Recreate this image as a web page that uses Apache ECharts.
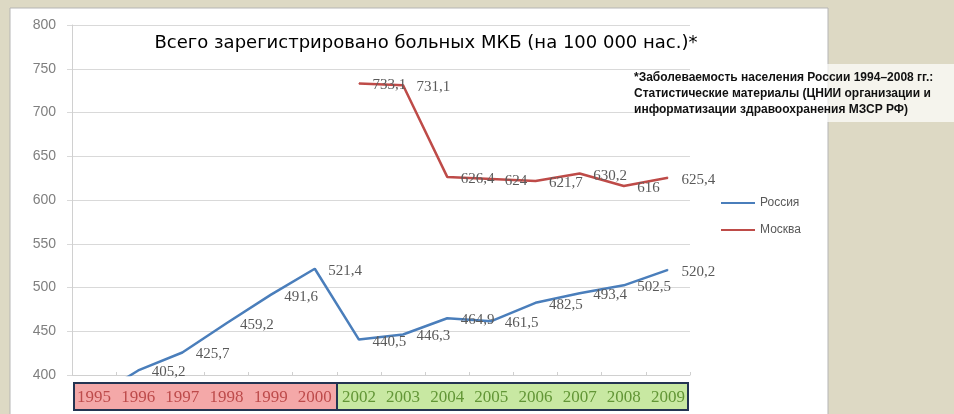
<!DOCTYPE html>
<html>
<head>
<meta charset="utf-8">
<script src="https://cdn.jsdelivr.net/npm/echarts@6/dist/echarts.min.js"></script>
<style>
  html, body { margin: 0; padding: 0; background: #ddd9c4; }
  #main { width: 954px; height: 414px; }
</style>
</head>
<body>
<div id="main"></div>
<script>
// data
var years = ['1995', '1996', '1997', '1998', '1999', '2000', '2002', '2003', '2004', '2005', '2006', '2007', '2008', '2009']
var russia = [374, 405.2, 425.7, 459.2, 491.6, 521.4, 440.5, 446.3, 464.9, 461.5, 482.5, 493.4, 502.5, 520.2]
var moscow = [null, null, null, null, null, null, 733.1, 731.1, 626.4, 624, 621.7, 630.2, 616, 625.4]
var yTicks = [400, 450, 500, 550, 600, 650, 700, 750, 800]

var myChart = echarts.init(document.getElementById('main'))

function fmt(p) {
  if (p.value == null || p.value < yTicks[0]) return ''
  return String(p.value).replace('.', ',')
}

var labelStyle = {
  show: true,
  position: 'right',
  distance: 13,
  offset: [0, 2],
  formatter: fmt,
  color: '#5a5a5a',
  fontSize: 15,
  fontFamily: 'Liberation Serif'
}

var option = {
  backgroundColor: '#ddd9c4',
  title: {
    text: 'Всего зарегистрировано больных МКБ (на 100 000 нас.)*',
    left: 421,
    top: 29,
    textAlign: 'center',
    textStyle: { color: '#000', fontSize: 18, fontWeight: 'normal', fontFamily: 'DejaVu Sans' }
  },
  legend: {
    orient: 'vertical',
    left: 716,
    top: 192,
    itemGap: 15,
    itemWidth: 34,
    itemHeight: 2,
    icon: 'rect',
    textStyle: { color: '#595959', fontSize: 12, fontFamily: 'Liberation Sans' },
    data: [
      { name: 'Россия', itemStyle: { color: '#4a7ebb' } },
      { name: 'Москва', itemStyle: { color: '#be4b48' } }
    ]
  },
  grid: { left: 72, right: 264, top: 25, bottom: 39 },
  xAxis: {
    type: 'category',
    data: years,
    boundaryGap: true,
    axisLine: { lineStyle: { color: '#d0d0d0' } },
    axisTick: { show: true, length: 3, inside: true, lineStyle: { color: '#d0d0d0' } },
    axisLabel: {
      margin: 14,
      interval: 0,
      fontSize: 17,
      fontFamily: 'Liberation Serif',
      color: function (v, i) { return i < 6 ? '#bd4b4b' : '#629636' }
    }
  },
  yAxis: {
    type: 'value',
    min: yTicks[0],
    max: yTicks[yTicks.length - 1],
    interval: 50,
    axisLine: { show: true, lineStyle: { color: '#d0d0d0' } },
    axisTick: { show: true, length: 5, lineStyle: { color: '#d9d9d9' } },
    axisLabel: { color: '#7f7f7f', fontSize: 14, margin: 16, fontFamily: 'Liberation Sans' },
    splitLine: { lineStyle: { color: '#d9d9d9' } }
  },
  graphic: [
    { type: 'rect', z: -10, shape: { x: 10, y: 8, width: 818, height: 420 },
      style: { fill: '#fff', stroke: '#b5b5b5', lineWidth: 1 } },
    { type: 'rect', z: -5, shape: { x: 74, y: 383, width: 263, height: 27 },
      style: { fill: '#f4a8a8', stroke: '#243452', lineWidth: 2 } },
    { type: 'rect', z: -5, shape: { x: 337, y: 383, width: 351, height: 27 },
      style: { fill: '#c8e8a2', stroke: '#243452', lineWidth: 2 } },
    { type: 'rect', z: -4, shape: { x: 628, y: 64, width: 326, height: 58 },
      style: { fill: 'rgba(255,255,255,0.7)' } },
    { type: 'text', z: 10, left: 634, top: 70,
      style: {
        text: '*Заболеваемость населения России 1994–2008 гг.:\nСтатистические материалы (ЦНИИ организации и\nинформатизации здравоохранения МЗСР РФ)',
        fill: '#111', font: 'bold 12px Liberation Sans', lineHeight: 16
      } }
  ],
  series: [
    {
      name: 'Россия',
      type: 'line',
      data: russia,
      symbol: 'circle',
      symbolSize: 1,
      lineStyle: { color: '#4a7ebb', width: 2.5 },
      itemStyle: { color: '#4a7ebb' },
      label: labelStyle
    },
    {
      name: 'Москва',
      type: 'line',
      data: moscow,
      symbol: 'circle',
      symbolSize: 1,
      lineStyle: { color: '#be4b48', width: 2.5 },
      itemStyle: { color: '#be4b48' },
      label: labelStyle
    }
  ]
}
myChart.setOption(option)
</script>
</body>
</html>
